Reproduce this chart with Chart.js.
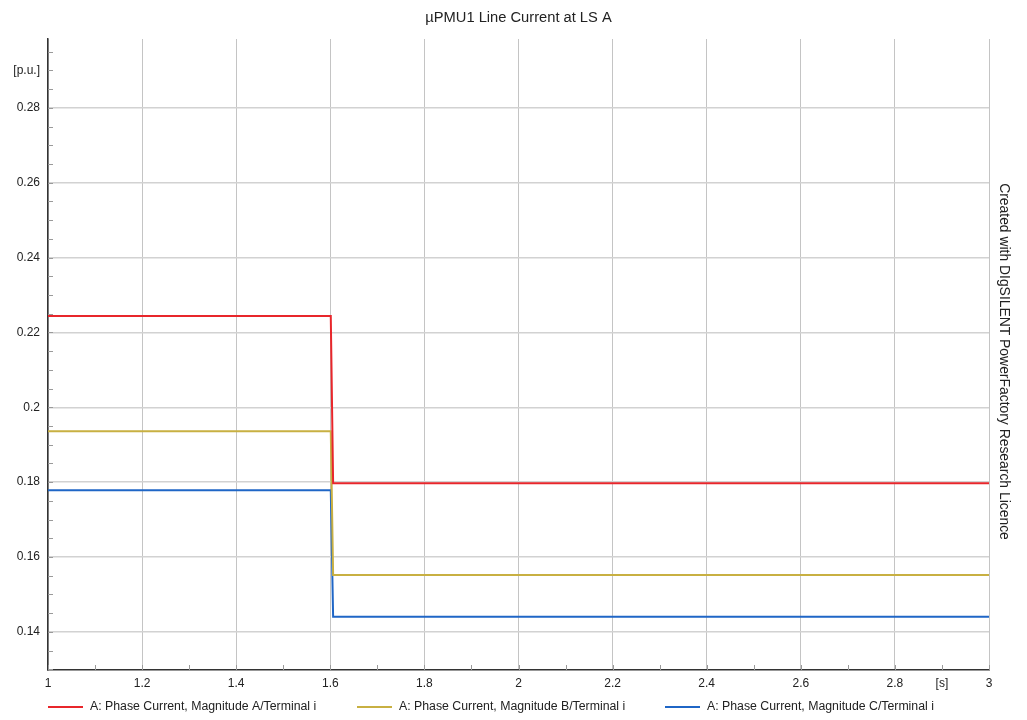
<!DOCTYPE html>
<html>
<head>
<meta charset="utf-8">
<script src="https://cdn.jsdelivr.net/npm/chart.js@4/dist/chart.umd.min.js"></script>
<style>
  body { margin: 0; background: #fff; }
  canvas { display: block; }
</style>
</head>
<body>
<canvas id="myChart" width="1027" height="720"></canvas>
<script>
const chartTitle = "\u00b5PMU1 Line Current at LS A";
const sideNote = "Created with DIgSILENT PowerFactory Research Licence";

// time points [s] and magnitudes [p.u.]
const timePoints = [1, 1.601, 1.606, 3];
const phaseA = [0.2244, 0.2244, 0.1797, 0.1797];
const phaseB = [0.1936, 0.1936, 0.1552, 0.1552];
const phaseC = [0.1778, 0.1778, 0.1440, 0.1440];

const seriesNames = [
  "A: Phase Current, Magnitude A/Terminal i",
  "A: Phase Current, Magnitude B/Terminal i",
  "A: Phase Current, Magnitude C/Terminal i",
];
const seriesColors = ["#e8262b", "#c8b042", "#1f66c6"];

const xUnitAt = 2.9;
const yUnitAt = 0.29;

const FONT = "Arial, 'Liberation Sans', sans-serif";

function toPoints(values) {
  return timePoints.map((t, i) => ({ x: t, y: values[i] }));
}

function isMultiple(v, step) {
  const r = v / step;
  return Math.abs(r - Math.round(r)) < 1e-6;
}

const extras = {
  id: "extras",
  afterDraw(chart) {
    const ctx = chart.ctx;
    const area = chart.chartArea;
    const xs = chart.scales.x;
    const ys = chart.scales.y;

    // small ticks inside the plot
    ctx.save();
    ctx.strokeStyle = "#9a9a9a";
    ctx.lineWidth = 1;
    ctx.beginPath();
    ys.ticks.forEach((t) => {
      const y = Math.round(ys.getPixelForValue(t.value)) + 0.5;
      ctx.moveTo(area.left, y);
      ctx.lineTo(area.left + 5, y);
    });
    xs.ticks.forEach((t) => {
      const x = Math.round(xs.getPixelForValue(t.value)) + 0.5;
      ctx.moveTo(x, area.bottom);
      ctx.lineTo(x, area.bottom - 5);
    });
    ctx.stroke();

    // title
    ctx.fillStyle = "#222";
    ctx.font = "14.7px " + FONT;
    ctx.textAlign = "center";
    ctx.textBaseline = "middle";
    ctx.fillText(chartTitle, (area.left + area.right) / 2, 18);

    // side note
    ctx.font = "13.9px " + FONT;
    ctx.save();
    ctx.translate(1004, 361.5);
    ctx.rotate(Math.PI / 2);
    ctx.fillText(sideNote, 0, 0);
    ctx.restore();

    // legend
    ctx.font = "12.3px " + FONT;
    ctx.textAlign = "left";
    const legendX = [48, 357, 665];
    seriesNames.forEach((name, i) => {
      const x0 = legendX[i];
      ctx.strokeStyle = seriesColors[i];
      ctx.lineWidth = 2;
      ctx.beginPath();
      ctx.moveTo(x0, 707);
      ctx.lineTo(x0 + 35, 707);
      ctx.stroke();
      ctx.fillStyle = "#222";
      ctx.fillText(name, x0 + 42, 707);
    });
    ctx.restore();
  },
};

const myChart = new Chart(document.getElementById("myChart").getContext("2d"), {
  type: "line",
  data: {
    datasets: [phaseA, phaseB, phaseC].map((vals, i) => ({
      label: seriesNames[i],
      data: toPoints(vals),
      borderColor: seriesColors[i],
      borderWidth: 2,
      pointRadius: 0,
      fill: false,
      tension: 0,
    })),
  },
  options: {
    responsive: false,
    animation: false,
    devicePixelRatio: 1,
    layout: { padding: { top: 39, right: 38, left: 0, bottom: 0 } },
    plugins: {
      legend: { display: false },
      title: { display: false },
      tooltip: { enabled: false },
    },
    scales: {
      x: {
        type: "linear",
        min: 1,
        max: 3,
        afterBuildTicks(scale) {
          const ticks = [];
          for (let k = 10; k <= 30; k++) ticks.push({ value: k / 10 });
          scale.ticks = ticks;
        },
        afterFit(scale) { scale.height = 50; },
        ticks: {
          autoSkip: false,
          maxRotation: 0,
          padding: 6,
          color: "#222",
          font: { family: FONT, size: 12 },
          callback(v) {
            if (Math.abs(v - xUnitAt) < 1e-6) return "[s]";
            if (isMultiple(v, 0.2)) return String(Math.round(v * 10) / 10);
            return "";
          },
        },
        grid: {
          drawTicks: false,
          lineWidth: 1,
          color(c) {
            return c.tick && isMultiple(c.tick.value, 0.2) ? "#c4c4c4" : "rgba(0,0,0,0)";
          },
        },
        border: { display: true, color: "#333", width: 1.5 },
      },
      y: {
        type: "linear",
        min: 0.1298,
        max: 0.2984,
        afterBuildTicks(scale) {
          const ticks = [];
          for (let k = 26; k <= 59; k++) ticks.push({ value: k / 200 });
          scale.ticks = ticks;
        },
        afterFit(scale) { scale.width = 48; },
        ticks: {
          autoSkip: false,
          padding: 8,
          color: "#222",
          font: { family: FONT, size: 12 },
          callback(v) {
            if (Math.abs(v - yUnitAt) < 1e-6) return "[p.u.]";
            if (isMultiple(v, 0.02)) return String(Math.round(v * 100) / 100);
            return "";
          },
        },
        grid: {
          drawTicks: false,
          lineWidth: 1.5,
          color(c) {
            return c.tick && isMultiple(c.tick.value, 0.02) ? "#d2d2d2" : "rgba(0,0,0,0)";
          },
        },
        border: { display: true, color: "#333", width: 1.5 },
      },
    },
  },
  plugins: [extras],
});
</script>
</body>
</html>
